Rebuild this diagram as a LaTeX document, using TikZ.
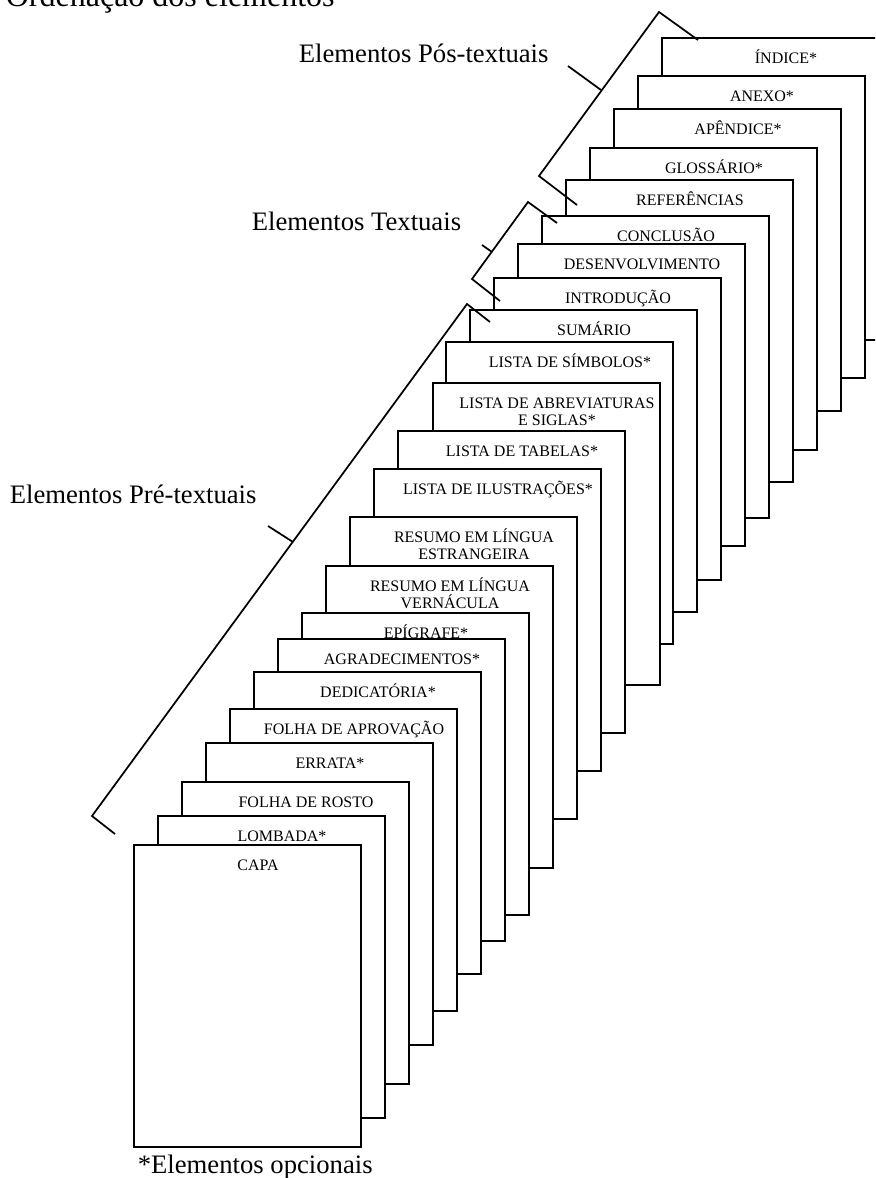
\documentclass[tikz,border=0pt]{standalone}
\usepackage{fontspec}
\setmainfont{Liberation Serif}
\newcommand{\twolines}[2]{\vtop{\baselineskip=12.75pt\lineskiplimit=-\maxdimen\halign{\hfil##\hfil\cr#1\cr#2\cr}}}
\begin{document}
\begin{tikzpicture}[x=0.75pt,y=-0.75pt,line width=1.3pt,
  page/.style={draw=black,fill=white,rectangle,anchor=north west,inner sep=0pt,outer sep=0pt,
    minimum width=170.25pt,minimum height=226.5pt},
  lbl/.style={anchor=base,inner sep=0pt,font=\fontsize{12}{12.75}\selectfont},
  big/.style={anchor=base west,inner sep=0pt,font=\fontsize{20}{24}\selectfont},
  brk/.style={draw=black,line width=1.3pt}]
\useasboundingbox (0,0) rectangle (875,1178);
\clip (0,0) rectangle (875,1178);

\node[anchor=base west,inner sep=0pt,font=\fontsize{24}{28}\selectfont] (title) at (5,6) {Ordenação dos elementos};

\foreach \n/\l/\t/\txt in {
  indice/662/38/{ÍNDICE*},
  anexo/638/76/{ANEXO*},
  apendice/614/109/{APÊNDICE*},
  glossario/590/148/{GLOSSÁRIO*},
  referencias/566/180/{REFERÊNCIAS},
  conclusao/542/216/{CONCLUSÃO},
  desenvolvimento/518/244/{DESENVOLVIMENTO},
  introducao/494/278/{INTRODUÇÃO},
  sumario/470/310/{SUMÁRIO},
  simbolos/446/342/{LISTA DE SÍMBOLOS*},
  abreviaturas/433/383/{\twolines{LISTA DE ABREVIATURAS}{E SIGLAS*}},
  tabelas/398/431/{LISTA DE TABELAS*},
  ilustracoes/374/469/{LISTA DE ILUSTRAÇÕES*},
  estrangeira/350/517/{\twolines{RESUMO EM LÍNGUA}{ESTRANGEIRA}},
  vernacula/326/566/{\twolines{RESUMO EM LÍNGUA}{VERNÁCULA}},
  epigrafe/302/613/{EPÍGRAFE*},
  agradecimentos/278/639/{AGRADECIMENTOS*},
  dedicatoria/254/672/{DEDICATÓRIA*},
  aprovacao/230/709/{FOLHA DE APROVAÇÃO},
  errata/206/743/{ERRATA*},
  rosto/182/782/{FOLHA DE ROSTO},
  lombada/158/816/{LOMBADA*},
  capa/134/845/{CAPA}}{
  \node[page] (\n) at (\l,\t) {};
  \node[lbl] (\n-txt) at ([shift={(124,25)}]\n.north west) {\txt};
}

% brackets
\coordinate (posA) at (698,40);
\coordinate (posB) at (659,12);
\coordinate (posC) at (539,176);
\coordinate (posD) at (577,205);
\coordinate (posT1) at (601,90);
\coordinate (posT2) at (568,66);
\draw[brk] (posA) -- (posB) -- (posC) -- (posD);
\draw[brk] (posT1) -- (posT2);

\coordinate (txtA) at (557,223);
\coordinate (txtB) at (528,202);
\coordinate (txtC) at (472,279);
\coordinate (txtD) at (500,301);
\coordinate (txtT1) at (492,252);
\coordinate (txtT2) at (482,245);
\draw[brk] (txtA) -- (txtB) -- (txtC) -- (txtD);
\draw[brk] (txtT1) -- (txtT2);

\coordinate (preA) at (490,322);
\coordinate (preB) at (467,304);
\coordinate (preC) at (92,816);
\coordinate (preD) at (115,834);
\coordinate (preT1) at (293,542);
\coordinate (preT2) at (268,526);
\draw[brk] (preA) -- (preB) -- (preC) -- (preD);
\draw[brk] (preT1) -- (preT2);

\node[big] (poslabel) at (298,62) {Elementos Pós-textuais};
\node[big] (txtlabel) at (251,230) {Elementos Textuais};
\node[big] (prelabel) at (9,503) {Elementos Pré-textuais};
\node[big] (opcionais) at (137,1173) {*Elementos opcionais};
\end{tikzpicture}
\end{document}
